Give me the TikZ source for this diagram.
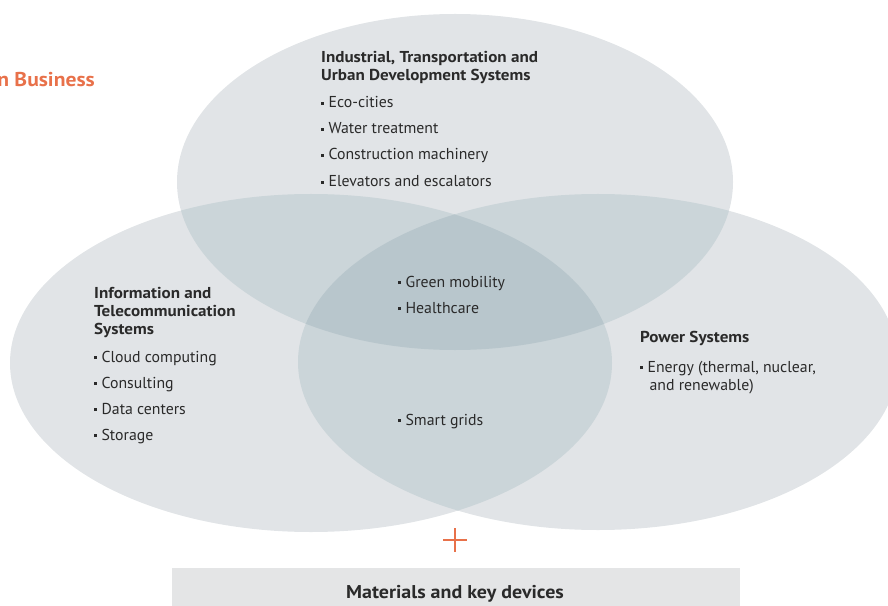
\documentclass[tikz,border=0pt]{standalone}
\usepackage{fontspec}
\usetikzlibrary{calc}
\setmainfont{PT Sans}[BoldFeatures={FakeStretch=1.08}]
\definecolor{basegray}{HTML}{E1E4E7}
\definecolor{dblgray}{HTML}{CBD5D9}
\definecolor{trigray}{HTML}{B8C6CC}
\definecolor{boxgray}{HTML}{E4E5E6}
\definecolor{txtcol}{HTML}{2A2A2A}
\definecolor{orng}{HTML}{E8714A}
\newcommand{\bul}{\rule[3bp]{2.8bp}{2.8bp}\hspace{4.6bp}}
\begin{document}
\begin{tikzpicture}[x=1bp,y=-1bp,
  txt/.style={anchor=base west,inner sep=0pt,text=txtcol,font=\fontsize{15.8bp}{18bp}\selectfont},
  head/.style={txt,font=\fontsize{15.8bp}{18bp}\selectfont\bfseries},
  ellT/.style={x radius=278bp,y radius=168bp},
  ellL/.style={x radius=301bp,y radius=169bp},
  ellR/.style={x radius=300bp,y radius=168bp}]
\useasboundingbox (0,0) rectangle (888,606);
\clip (0,0) rectangle (888,606);
\coordinate (cT) at (455,182);
\coordinate (cL) at (311,363);
\coordinate (cR) at (598,362);
% single regions
\fill[basegray] (cT) ellipse[ellT];
\fill[basegray] (cL) ellipse[ellL];
\fill[basegray] (cR) ellipse[ellR];
% double overlaps
\begin{scope}\clip (cT) ellipse[ellT]; \fill[dblgray] (cL) ellipse[ellL]; \fill[dblgray] (cR) ellipse[ellR];\end{scope}
\begin{scope}\clip (cL) ellipse[ellL]; \fill[dblgray] (cR) ellipse[ellR];\end{scope}
% triple
\begin{scope}\clip (cT) ellipse[ellT]; \clip (cL) ellipse[ellL]; \fill[trigray] (cR) ellipse[ellR];\end{scope}

% corner title
\node[anchor=base east,inner sep=0pt,text=orng,font=\fontsize{20bp}{22bp}\selectfont\bfseries] (title) at (95,87) {n Business};

% top group
\node[head] (t1) at (321,63) {Industrial, Transportation and};
\node[head] (t2) at (321,81) {Urban Development Systems};
\node[txt] (t3) at (321,108) {\bul Eco-cities};
\node[txt] (t4) at (321,134) {\bul Water treatment};
\node[txt] (t5) at (321,160) {\bul Construction machinery};
\node[txt] (t6) at (321,187) {\bul Elevators and escalators};

% left group
\node[head] (l1) at (94,298) {Information and};
\node[head] (l2) at (94,316) {Telecommunication};
\node[head] (l3) at (94,334) {Systems};
\node[txt] (l4) at (94,362) {\bul Cloud computing};
\node[txt] (l5) at (94,388) {\bul Consulting};
\node[txt] (l6) at (94,414) {\bul Data centers};
\node[txt] (l7) at (94,440) {\bul Storage};

% right group
\node[head] (r1) at (640,342) {Power Systems};
\node[txt] (r2) at (640,372) {\bul Energy (thermal, nuclear,};
\node[txt] (r3) at (649.4,390) {and renewable)};

% centre
\node[txt] (c1) at (398,287) {\bul Green mobility};
\node[txt] (c2) at (398,313) {\bul Healthcare};
\node[txt] (c3) at (398,425) {\bul Smart grids};

% plus
\coordinate (plusc) at (455,540);
\draw[orng,line width=1.4bp] ($(plusc)+(-12,0)$) -- ($(plusc)+(12,0)$);
\draw[orng,line width=1.4bp] ($(plusc)+(0,-12)$) -- ($(plusc)+(0,12)$);

% bottom box
\fill[boxgray] (172,568) rectangle (740,606);
\node[anchor=base,inner sep=0pt,text=txtcol,font=\fontsize{18.5bp}{20bp}\selectfont\bfseries] (mat) at (455,598) {Materials and key devices};
\end{tikzpicture}
\end{document}
